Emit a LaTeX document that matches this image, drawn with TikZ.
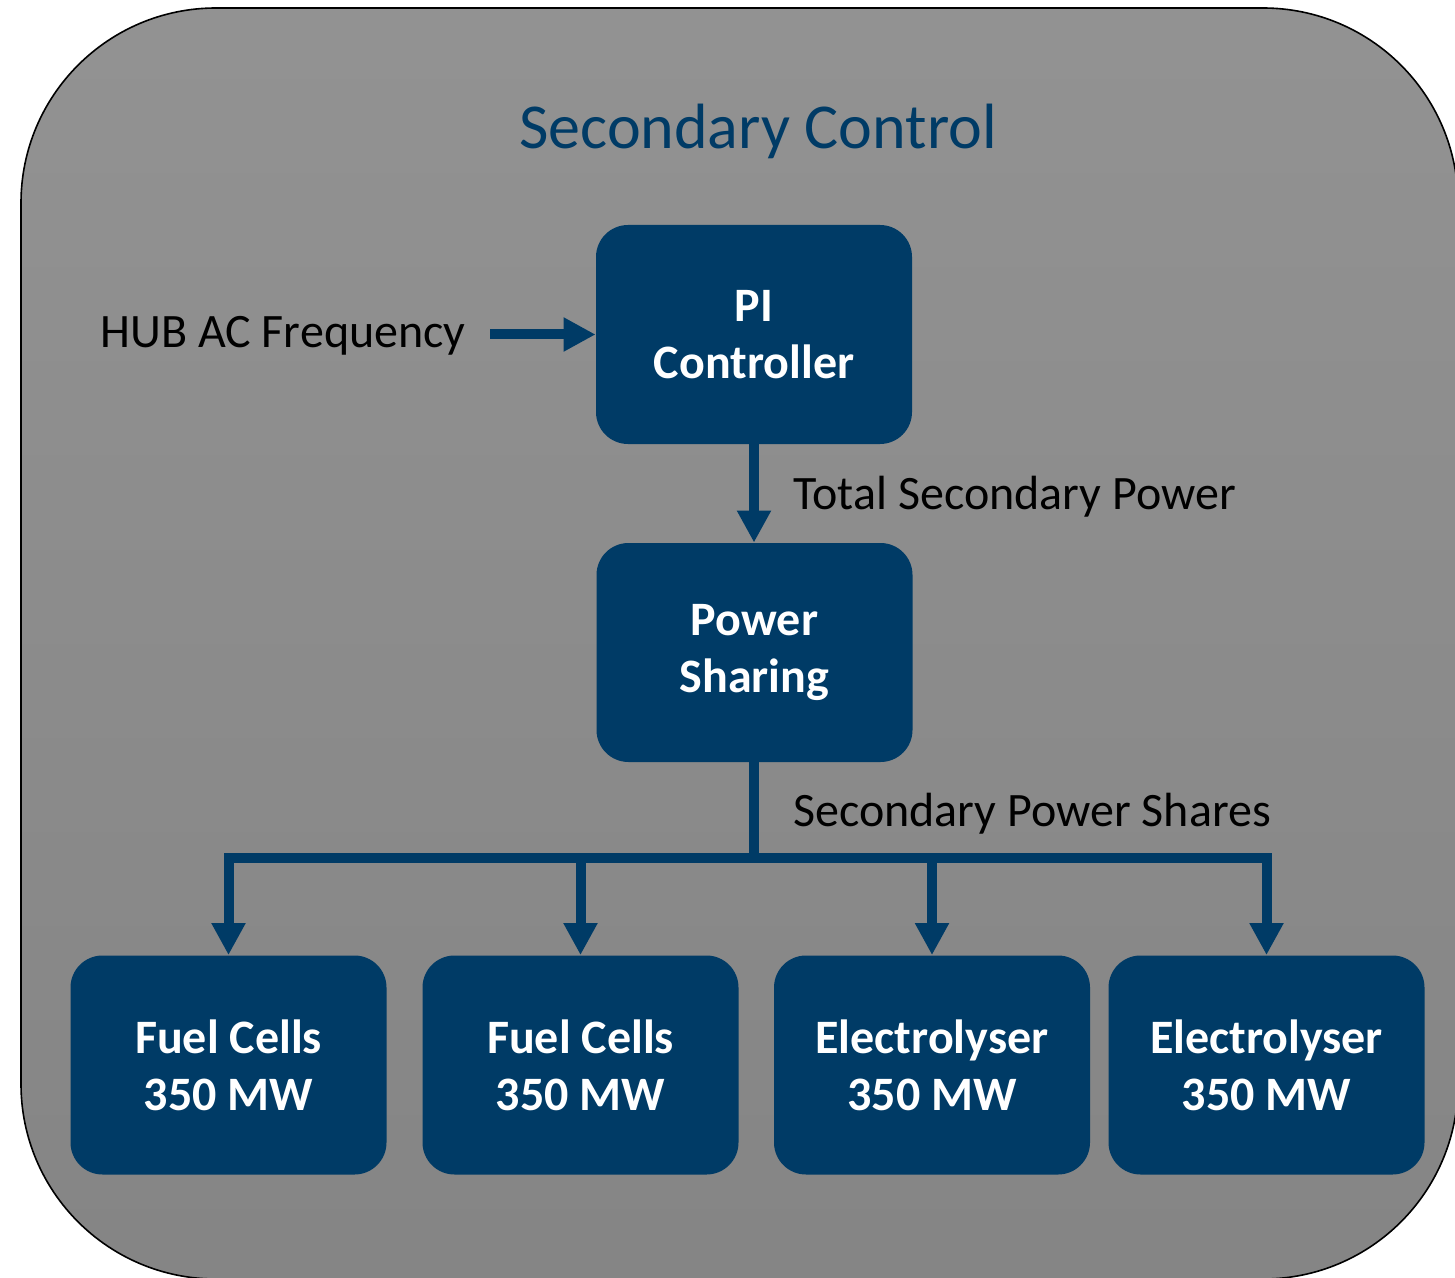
\documentclass[tikz,border=0pt]{standalone}
\usepackage{fontspec}
\setmainfont{Carlito}
\usetikzlibrary{arrows.meta}
\definecolor{boxblue}{RGB}{0,59,102}
\definecolor{bgtop}{RGB}{153,153,153}
\definecolor{bgbot}{RGB}{126,126,126}
\pgfdeclareverticalshading{bgshade}{100bp}{color(0bp)=(bgbot); color(100bp)=(bgtop)}
\tikzset{
  blockbox/.style={fill=boxblue, draw=none, rounded corners=16pt,
    minimum width=158pt, minimum height=109.5pt, inner sep=0pt,
    text=white, font=\fontsize{24}{28.5}\selectfont\bfseries, align=center},
  lbl/.style={inner sep=0pt, anchor=base west, text=black, font=\fontsize{24}{28}\selectfont},
  link/.style={draw=boxblue, line width=5pt, line join=miter},
  arr/.style={link, -{Triangle[length=16pt,width=16pt]}}
}
\begin{document}
\begin{tikzpicture}[x=0.5pt,y=-0.5pt]
\useasboundingbox (0,0) rectangle (1455,1278);
\clip (0,0) rectangle (1455,1278);
\path[shading=bgshade, draw=black, line width=0.8pt, rounded corners=97.5pt]
  (21,8) rectangle (1458,1279);
\node[inner sep=0pt, anchor=base, text=boxblue, font=\fontsize{32}{38}\selectfont]
  (title) at (758,149) {Secondary Control};
\node[blockbox] (pi) at (754,334.5) {PI\\Controller};
\node[blockbox] (ps) at (754.5,652.5) {Power\\Sharing};
\node[blockbox] (fc1) at (228.5,1065) {Fuel Cells\\350 MW};
\node[blockbox] (fc2) at (580.5,1065) {Fuel Cells\\350 MW};
\node[blockbox] (el1) at (932,1065) {Electrolyser\\350 MW};
\node[blockbox] (el2) at (1266.5,1065) {Electrolyser\\350 MW};
\node[lbl] (hub) at (100,348) {HUB AC Frequency};
\node[lbl] (tsp) at (793,509) {Total Secondary Power};
\node[lbl] (sps) at (793,826) {Secondary Power Shares};
\coordinate (hubstart) at (490,334.5);
\coordinate (j) at (754,858);
\draw[arr] (hubstart) -- (pi.west);
\draw[arr] (pi.south) -- (ps.north -| pi.south);
\draw[link] (ps.south -| j) -- (j);
\draw[arr] (j) -| (fc1.north);
\draw[arr] (j) -| (fc2.north);
\draw[arr] (j) -| (el1.north);
\draw[arr] (j) -| (el2.north);
\end{tikzpicture}
\end{document}
